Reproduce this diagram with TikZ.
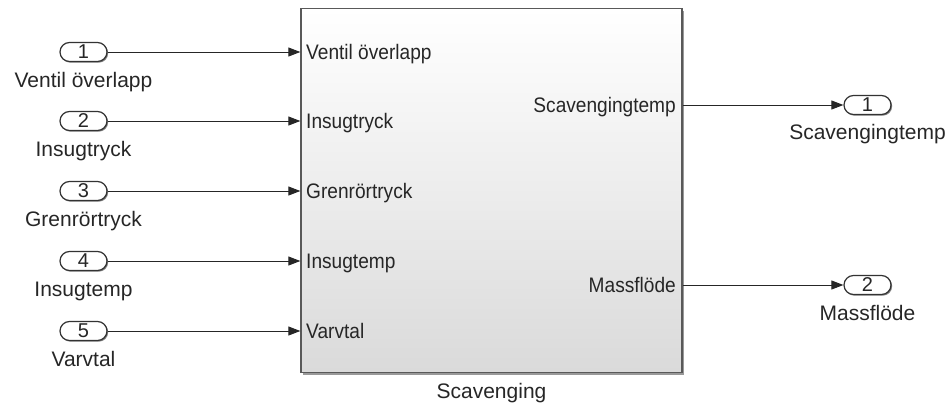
\documentclass[tikz,border=0pt]{standalone}
\usepackage{fontspec}
\setmainfont{Liberation Sans}
\newfontfamily\portfont[FakeStretch=0.91]{Liberation Sans}
\usetikzlibrary{arrows.meta,shapes.misc,shadows}
\begin{document}
\begin{tikzpicture}[x=1pt,y=-1pt,
  port/.style={rounded rectangle, draw=black!80, line width=1.2pt, fill=white,
    minimum width=47pt, minimum height=19pt, inner sep=0pt,
    font=\fontsize{20}{20}\selectfont, text=black!85,
    drop shadow={shadow xshift=1.2pt,shadow yshift=-1.2pt,fill=black!50,opacity=1}},
  lbl/.style={font=\fontsize{21}{25}\selectfont, anchor=base, text=black!85, inner sep=0pt},
  plbl/.style={font=\portfont\fontsize{21}{25}\selectfont, text=black!85, inner sep=0pt},
  sig/.style={line width=0.9pt, draw=black!85, -{Triangle[length=12pt,width=9pt]}},
  subsys/.style={rectangle, draw=black!65, line width=1.3pt,
    minimum width=381pt, minimum height=364pt, inner sep=0pt,
    top color=white, bottom color={rgb,255:red,218;green,218;blue,218},
    drop shadow={shadow xshift=2pt,shadow yshift=-2pt,fill=black!40,opacity=1}}]
\useasboundingbox (0,0) rectangle (951,405);

% subsystem block
\node[subsys] (blk) at (491.5,190.5) {};
\node[lbl] (blkname) at (491.5,398.5) {Scavenging};

% inports
\node[port] (in1) at (83.5,52) {1};
\node[port] (in2) at (83.5,121) {2};
\node[port] (in3) at (83.5,191) {3};
\node[port] (in4) at (83.5,261) {4};
\node[port] (in5) at (83.5,331) {5};
\node[lbl] (n1) at (83.5,87) {Ventil överlapp};
\node[lbl] (n2) at (83.5,156) {Insugtryck};
\node[lbl] (n3) at (83.5,226) {Grenrörtryck};
\node[lbl] (n4) at (83.5,296) {Insugtemp};
\node[lbl] (n5) at (83.5,366) {Varvtal};

% outports
\node[port] (out1) at (867.5,105) {1};
\node[port] (out2) at (867.5,285) {2};
\node[lbl] (m1) at (867.5,139) {Scavengingtemp};
\node[lbl] (m2) at (867.5,320) {Massflöde};

% port labels inside the block
\node[plbl, anchor=base west] (p1) at (306,59.5) {Ventil överlapp};
\node[plbl, anchor=base west] (p2) at (306,128.5) {Insugtryck};
\node[plbl, anchor=base west] (p3) at (306,198.5) {Grenrörtryck};
\node[plbl, anchor=base west] (p4) at (306,268.5) {Insugtemp};
\node[plbl, anchor=base west] (p5) at (306,338.5) {Varvtal};
\node[plbl, anchor=base east] (q1) at (676,112.5) {Scavengingtemp};
\node[plbl, anchor=base east] (q2) at (676,292.5) {Massflöde};

% signal lines
\foreach \i in {1,...,5}
  \draw[sig] (in\i.east) -- (blk.west |- in\i);
\draw[sig] (blk.east |- out1) -- (out1.west);
\draw[sig] (blk.east |- out2) -- (out2.west);
\end{tikzpicture}
\end{document}
